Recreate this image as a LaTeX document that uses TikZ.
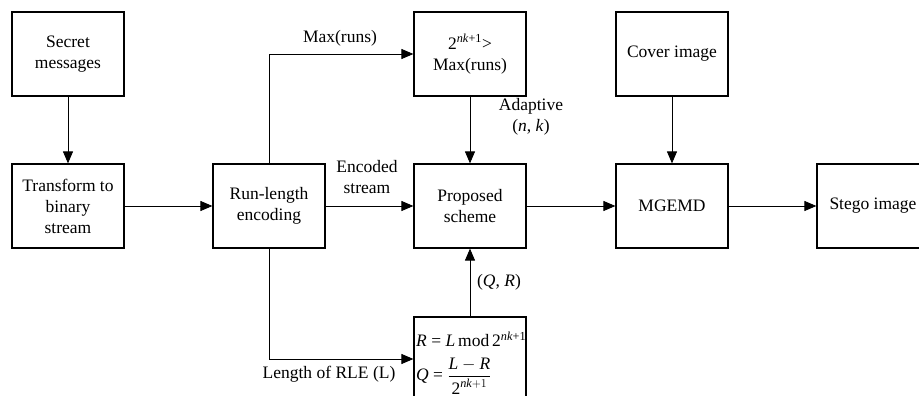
\documentclass[tikz,border=0pt]{standalone}
\usepackage{amsmath}
\usepackage{fontspec}
\setmainfont{Liberation Serif}
\usetikzlibrary{arrows.meta}
\tikzset{
  box/.style={draw, line width=1.2pt, minimum width=112pt, minimum height=84pt, align=center, inner sep=0pt},
  txt/.style={font=\fontsize{17.5}{21}\selectfont},
  lbl/.style={txt, align=center, inner sep=0pt},
  conn/.style={line width=0.9pt, -{Triangle[length=12pt,width=10pt]}},
}
\begin{document}
\begin{tikzpicture}[x=1pt,y=-1pt]
\useasboundingbox (0,0) rectangle (919,396);
\clip (0,0) rectangle (919,396);
\node[box,txt] (secret) at (68,54) {Secret\\messages};
\node[box,txt] (transform) at (68,206) {Transform to\\binary\\stream};
\node[box,txt] (rle) at (269,206) {Run-length\\encoding};
\node[box,txt] (cond) at (470,54) {2\textsuperscript{\textit{nk}+1}>\\Max(runs)};
\node[box,txt] (prop) at (470,206) {Proposed\\scheme};
\node[box] (formula) at (470,359) {};
\node[box,txt] (cover) at (672,54) {Cover image};
\node[box,txt] (mgemd) at (672,206) {MGEMD};
\node[box,txt] (stego) at (873,206) {Stego image};
\node[txt, anchor=west, inner sep=0pt] (rline) at (416,339) {\textit{R} = \textit{L}\,mod\,2\textsuperscript{\textit{nk}+1}};
\node[txt, anchor=west, inner sep=0pt] (qline) at (416,376) {\textit{Q} = $\dfrac{\textit{L} - \textit{R}}{\textup{2}^{\textit{nk}+1}}$};
\draw[conn] (secret.south) -- (transform.north);
\draw[conn] (transform.east) -- (rle.west);
\draw[conn] (rle.north) |- (cond.west);
\draw[conn] (rle.east) -- (prop.west);
\draw[conn] (rle.south) |- (formula.west);
\draw[conn] (cond.south) -- (prop.north);
\draw[conn] (formula.north) -- (prop.south);
\draw[conn] (prop.east) -- (mgemd.west);
\draw[conn] (cover.south) -- (mgemd.north);
\draw[conn] (mgemd.east) -- (stego.west);
\node[lbl] (lmax) at (340,38) {Max(runs)};
\node[lbl] (lenc) at (367,177) {Encoded\\stream};
\node[lbl] (lada) at (531,117) {Adaptive\\(\textit{n}, \textit{k})};
\node[lbl] (lqr) at (499,282) {(\textit{Q}, \textit{R})};
\node[lbl] (llen) at (329,374) {Length of RLE (L)};
\end{tikzpicture}
\end{document}
